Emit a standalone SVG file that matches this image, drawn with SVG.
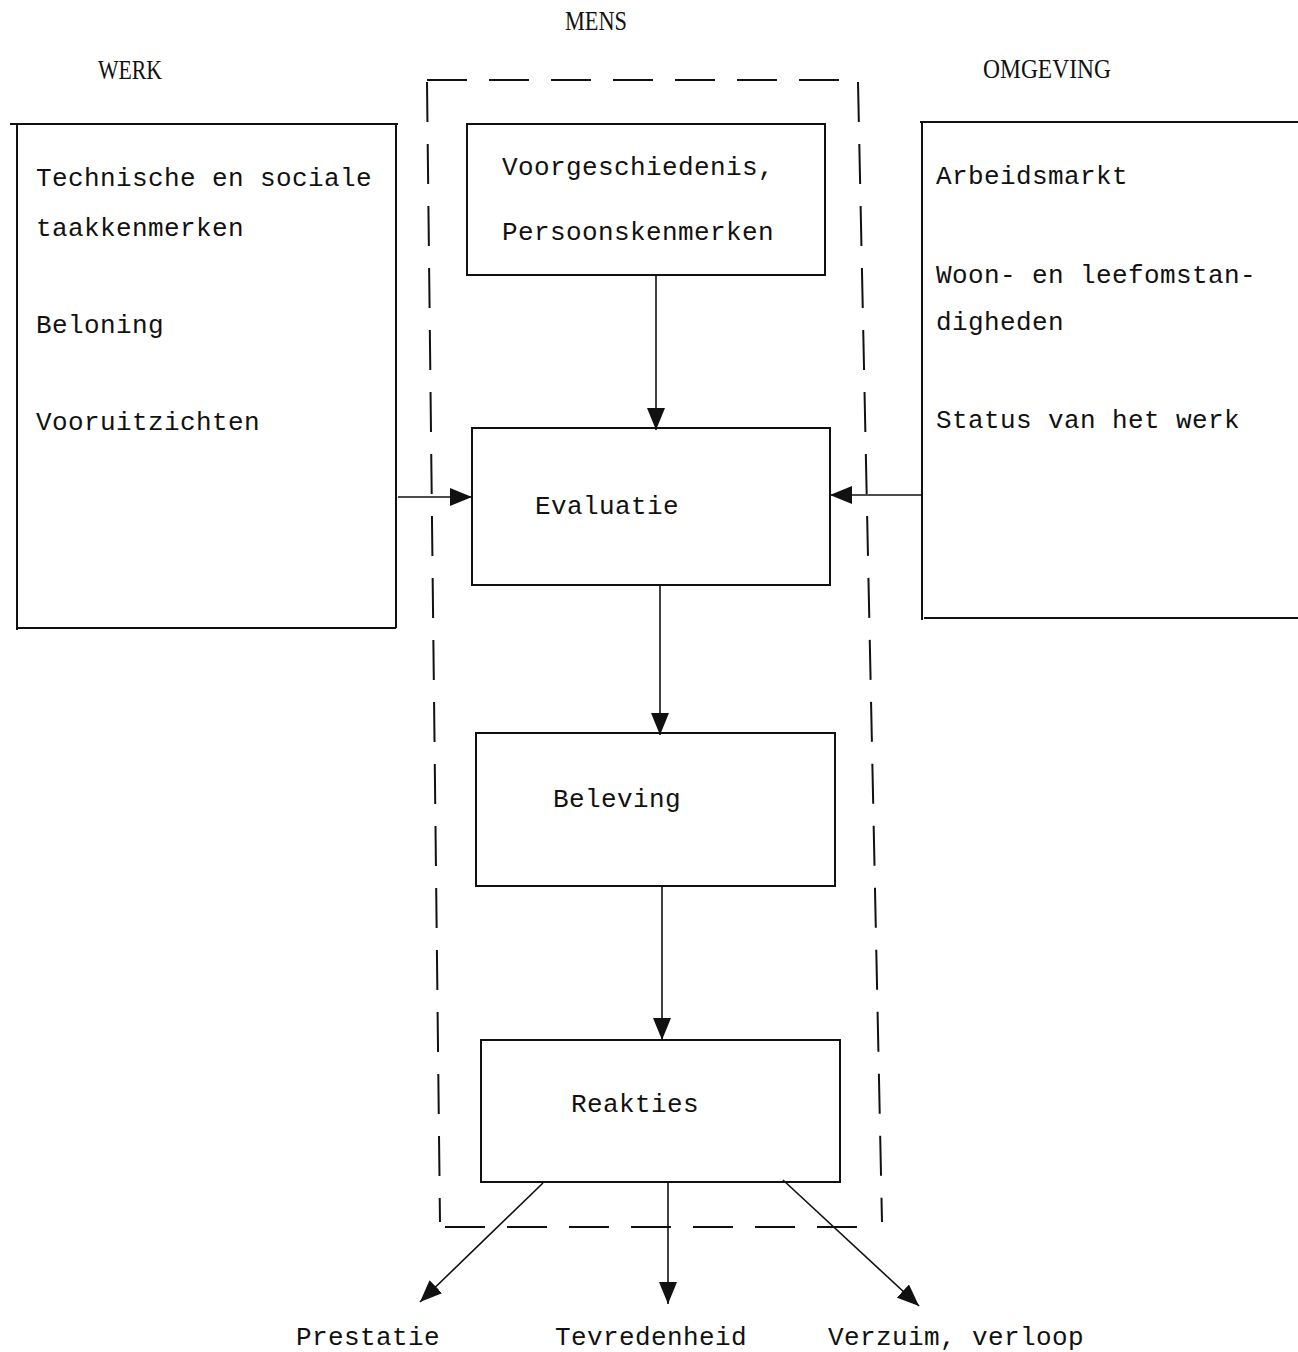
<svg xmlns="http://www.w3.org/2000/svg" width="1298" height="1352" viewBox="0 0 1298 1352">
<style>
.box{fill:none;stroke:#111;stroke-width:2}
.dash{fill:none;stroke:#111;stroke-width:2;stroke-dasharray:40 22}
.arr{fill:none;stroke:#111;stroke-width:1.6}
.t{font-family:"Liberation Mono","Courier New",monospace;font-size:26px;letter-spacing:0.4px;fill:#111}
.h{font-family:"Liberation Serif","Times New Roman",serif;font-size:27px;fill:#111}
</style>
<defs>
<marker id="ah" viewBox="0 0 22 18" refX="22" refY="9" markerWidth="22" markerHeight="18" markerUnits="userSpaceOnUse" orient="auto">
<path d="M0,0 L22,9 L0,18 z" fill="#111"/>
</marker>
</defs>
<rect width="1298" height="1352" fill="#fff"/>
<text class="h" x="565" y="30" textLength="62" lengthAdjust="spacingAndGlyphs">MENS</text>
<text class="h" x="98" y="79" textLength="64" lengthAdjust="spacingAndGlyphs">WERK</text>
<text class="h" x="983" y="78" textLength="128" lengthAdjust="spacingAndGlyphs">OMGEVING</text>

<g id="mens">
<path class="dash" d="M427,80 L860,80"/>
<path class="dash" d="M427,82 L440,1222"/>
<path class="dash" d="M858,82 L882,1222"/>
<path class="dash" d="M445,1227 L862,1227"/>
</g>

<g id="werk">
<path class="box" d="M10,124 L398,124 M17,124 L17,630 M396,124 L396,628 M17,628 L396,628"/>
<text class="t" x="36" y="186">Technische en sociale</text>
<text class="t" x="36" y="236">taakkenmerken</text>
<text class="t" x="36" y="333">Beloning</text>
<text class="t" x="36" y="430">Vooruitzichten</text>
</g>

<g id="omgeving">
<path class="box" d="M920,122 L1298,122 M922,122 L922,620 M924,618 L1298,618"/>
<text class="t" x="936" y="184">Arbeidsmarkt</text>
<text class="t" x="936" y="283">Woon- en leefomstan-</text>
<text class="t" x="936" y="330">digheden</text>
<text class="t" x="936" y="428">Status van het werk</text>
</g>

<g id="voorgeschiedenis">
<rect class="box" x="467" y="124" width="358" height="151"/>
<text class="t" x="502" y="175">Voorgeschiedenis,</text>
<text class="t" x="502" y="240">Persoonskenmerken</text>
</g>

<g id="evaluatie">
<rect class="box" x="472" y="428" width="358" height="157"/>
<text class="t" x="535" y="514">Evaluatie</text>
</g>

<g id="beleving">
<rect class="box" x="476" y="733" width="359" height="153"/>
<text class="t" x="553" y="807">Beleving</text>
</g>

<g id="reakties">
<rect class="box" x="481" y="1040" width="359" height="142"/>
<text class="t" x="571" y="1112">Reakties</text>
</g>

<g id="outputs">
<text class="t" x="296" y="1345">Prestatie</text>
<text class="t" x="555" y="1345">Tevredenheid</text>
<text class="t" x="828" y="1345">Verzuim, verloop</text>
</g>

<g id="connectors">
<path class="arr" d="M656,275 L656,430" marker-end="url(#ah)"/>
<path class="arr" d="M398,497 L472,497" marker-end="url(#ah)"/>
<path class="arr" d="M922,495 L830,495" marker-end="url(#ah)"/>
<path class="arr" d="M660,585 L660,735" marker-end="url(#ah)"/>
<path class="arr" d="M662,886 L662,1040" marker-end="url(#ah)"/>
<path class="arr" d="M543,1183 L420,1302" marker-end="url(#ah)"/>
<path class="arr" d="M668,1182 L668,1304" marker-end="url(#ah)"/>
<path class="arr" d="M783,1180 L919,1306" marker-end="url(#ah)"/>
</g>
</svg>
